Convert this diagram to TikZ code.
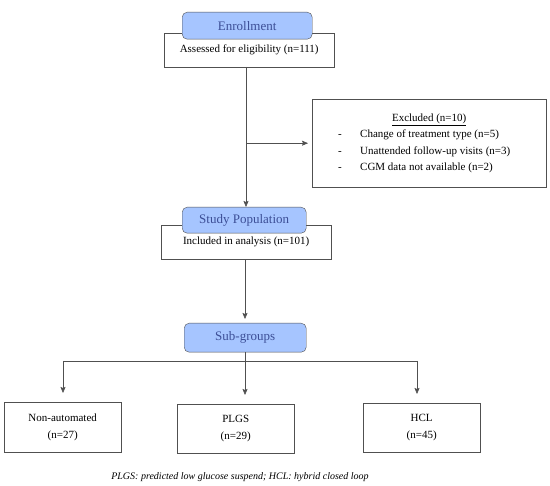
\documentclass[tikz,border=0pt]{standalone}
\usepackage{fontspec}
\setmainfont{Liberation Serif}
\usepackage{xcolor}
\usetikzlibrary{arrows.meta, positioning, calc}
\definecolor{headfill}{RGB}{166,197,255}
\definecolor{headtext}{RGB}{60,78,150}
\definecolor{boxline}{RGB}{80,80,80}
\tikzstyle{arrow} = [draw=boxline, semithick, ->, >={Stealth[length=6pt,width=5pt,inset=1pt]}]
\tikzstyle{headbox} = [draw=boxline, rounded corners=5pt, fill=headfill, text=headtext, font=\fontsize{13}{15}\selectfont]
\tikzstyle{plainbox} = [draw=boxline, rectangle, fill=white, font=\fontsize{11}{13}\selectfont, align=center]

\begin{document}
\begin{tikzpicture}[x=1pt, y=-1pt]
\useasboundingbox (0,0) rectangle (550,486);
% Flow nodes
\node (assess) [plainbox, minimum width=170pt, minimum height=34pt, inner sep=0pt, anchor=north west] at (164,33) {\raisebox{-3pt}{Assessed for eligibility (n=111)}};
\node (enroll) [headbox, minimum width=130pt, minimum height=27pt, anchor=north west] at (182,12) {Enrollment};

\node (excl) [plainbox, minimum width=234pt, minimum height=88pt, inner sep=0pt, anchor=north west] at (312,99) {%
  \begin{tabular}{@{}p{48pt}@{}l@{}}
  \multicolumn{2}{@{}p{234pt}@{}}{\centering\underline{Excluded (n=10)}}\\[3.5pt]
  \hspace*{26pt}- & Change of treatment type (n=5)\\[3.5pt]
  \hspace*{26pt}- & Unattended follow-up visits (n=3)\\[3.5pt]
  \hspace*{26pt}- & CGM data not available (n=2)
  \end{tabular}};

\node (incl) [plainbox, minimum width=170pt, minimum height=34pt, anchor=north west] at (161,225) {\raisebox{-1pt}{Included in analysis (n=101)}};
\node (study) [headbox, minimum width=124pt, minimum height=26pt, anchor=north west] at (182,207) {Study Population};

\node (sub) [headbox, minimum width=122pt, minimum height=29pt, anchor=north west] at (184,323) {Sub-groups};

% Sub-group nodes
\node (nonauto) [plainbox, minimum width=117pt, minimum height=50pt, anchor=north west] at (4,402) {Non-automated\\[4pt](n=27)};
\node (plgs) [plainbox, minimum width=117pt, minimum height=49pt, anchor=north west] at (177,404) {PLGS\\[4pt](n=29)};
\node (hcl) [plainbox, minimum width=117pt, minimum height=49pt, anchor=north west] at (363,403) {HCL\\[4pt](n=45)};

\node (note) at (240,477) {\fontsize{10}{12}\selectfont\itshape PLGS: predicted low glucose suspend; HCL: hybrid closed loop};

% Connectors
\coordinate (trunk) at (246,67);
\coordinate (fork) at (245,361);
\draw [arrow] (trunk) -- (trunk |- study.north);
\draw [arrow, shorten >=4pt] (trunk |- excl.west) -- (excl.west);
\draw [arrow, shorten >=4pt] (fork |- incl.south) -- (fork |- sub.north);
\draw [draw=boxline, semithick] (fork |- sub.south) -- (fork);
\draw [draw=boxline, semithick] (63,361) -- (417,361);
\draw [arrow, shorten >=9pt] (63,361) -- (63,402);
\draw [arrow, shorten >=9pt] (fork) -- (fork |- plgs.north);
\draw [arrow, shorten >=9pt] (417,361) -- (417,403);
\end{tikzpicture}
\end{document}
